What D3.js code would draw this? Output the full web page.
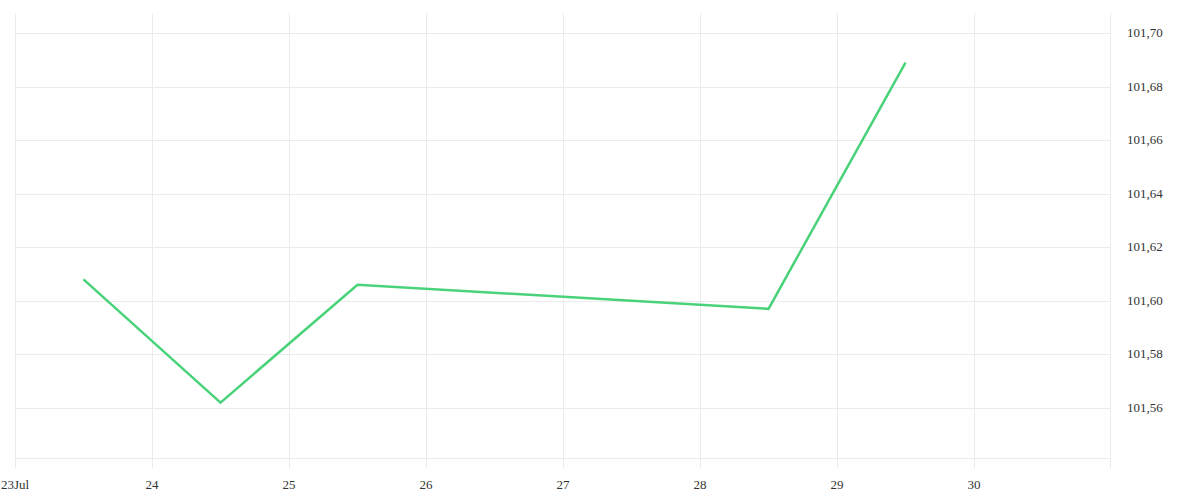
<!DOCTYPE html>
<html><head><meta charset="utf-8">
<script src="https://cdn.jsdelivr.net/npm/d3@7"></script>
<style>body{margin:0;background:#fff}svg{display:block}</style>
</head><body><svg id="c" width="1200" height="500"></svg>
<script>
const dates = ["2024-07-23T12:00","2024-07-24T12:00","2024-07-25T12:00","2024-07-28T12:00","2024-07-29T12:00"];
const values = [101.608, 101.562, 101.606, 101.597, 101.689];
const yTicks = [101.56,101.58,101.60,101.62,101.64,101.66,101.68,101.70];
const xTickLabels = ["23Jul","24","25","26","27","28","29","30"];

const svg = d3.select("#c");
const parse = d3.timeParse("%Y-%m-%dT%H:%M");
const pL=15, pR=1111, pT=13, pB=458;
const x = d3.scaleTime().domain([new Date(2024,6,23), new Date(2024,6,31)]).range([pL,pR]);
const y = d3.scaleLinear().domain([101.5413,101.7075]).range([pB,pT]);
const xTicks = d3.range(8).map(i=>new Date(2024,6,23+i));
const grid = "#ebebeb";
const font = "Liberation Serif";

// horizontal grid
svg.append("g").selectAll("line").data(yTicks).join("line")
  .attr("x1",pL).attr("x2",pR).attr("y1",d=>Math.round(y(d))+0.5).attr("y2",d=>Math.round(y(d))+0.5)
  .attr("stroke",grid);
svg.append("line").attr("x1",pL).attr("x2",pR).attr("y1",pB+0.5).attr("y2",pB+0.5).attr("stroke",grid);
// vertical grid
svg.append("g").selectAll("line").data(xTicks).join("line")
  .attr("x1",d=>Math.round(x(d))+0.5).attr("x2",d=>Math.round(x(d))+0.5).attr("y1",pT).attr("y2",pB+10)
  .attr("stroke",grid);
svg.append("line").attr("x1",pR-0.5).attr("x2",pR-0.5).attr("y1",pT).attr("y2",pB+10).attr("stroke",grid);

// x labels
svg.append("g").selectAll("text").data(xTicks).join("text")
  .attr("x",d=>x(d)).attr("y",489).attr("text-anchor","middle")
  .attr("font-family",font).attr("font-size",13).attr("fill","#333")
  .text((d,i)=>xTickLabels[i]);
// y labels
const fmt = d=>d3.format(".2f")(d).replace(".",",");
svg.append("g").selectAll("text").data(yTicks).join("text")
  .attr("x",1127).attr("y",d=>y(d)+4).attr("text-anchor","start")
  .attr("font-family",font).attr("font-size",13).attr("fill","#333")
  .text(fmt);

// line
const data = dates.map((d,i)=>({t:parse(d),v:values[i]}));
svg.append("path").datum(data)
  .attr("d",d3.line().x(d=>x(d.t)).y(d=>y(d.v)))
  .attr("fill","none").attr("stroke","#4ad27a").attr("stroke-width",2.5).attr("stroke-linejoin","miter");
</script></body></html>
